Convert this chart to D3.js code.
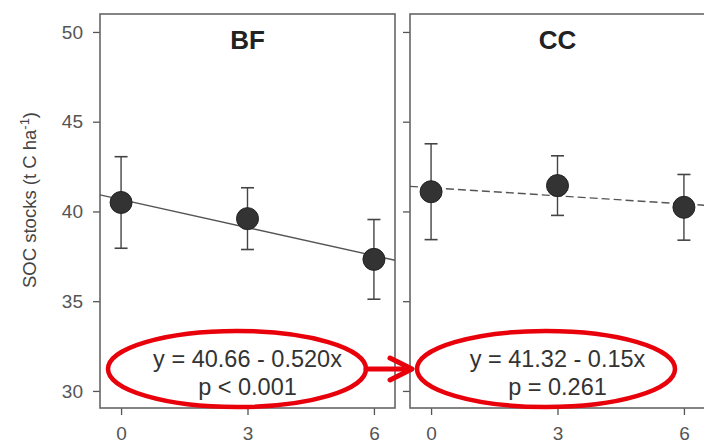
<!DOCTYPE html>
<html>
<head>
<meta charset="utf-8">
<script src="https://cdn.jsdelivr.net/npm/d3@7"></script>
<style>
  body { margin: 0; background: #fff; }
  svg { display: block; font-family: "Liberation Sans", Arial, sans-serif; }
</style>
</head>
<body>
<div id="chart"></div>
<script>
// data
const years = [0, 3, 6];
const yTicks = [30, 35, 40, 45, 50];
const panelNames = ["BF", "CC"];
const bfMean = [40.5, 39.6, 37.33];
const bfErr = [2.55, 1.72, 2.22];
const ccMean = [41.1, 41.44, 40.23];
const ccErr = [2.67, 1.66, 1.83];
const bfFit = [40.66, -0.520];   // intercept, slope
const ccFit = [41.32, -0.15];
const bfLabel = ["y = 40.66 - 0.520x", "p < 0.001"];
const ccLabel = ["y = 41.32 - 0.15x", "p = 0.261"];

var W = 704, H = 446;
var pw = 295, ph = 394;

var svg = d3.select("#chart").append("svg")
  .attr("width", W).attr("height", H);

var x = d3.scaleLinear().domain([-0.5, 6.5]).range([0, pw]);
var y = d3.scaleLinear().domain([29.05, 51]).range([ph, 0]);

var panels = [
  {name: panelNames[0], left: 100, mean: bfMean, err: bfErr, fit: bfFit, label: bfLabel, dash: null, ecx: 137},
  {name: panelNames[1], left: 410, mean: ccMean, err: ccErr, fit: ccFit, label: ccLabel, dash: "8,4", ecx: 136}
];

panels.forEach(function(p, i) {
  var g = svg.append("g").attr("transform", "translate(" + p.left + ",14)");

  // y axis ticks (labels only on first panel)
  var ya = g.append("g")
    .call(d3.axisLeft(y).tickValues(yTicks).tickSize(7).tickPadding(10));
  ya.select(".domain").remove();
  ya.selectAll("line").attr("stroke", "#555").attr("stroke-width", 1.3);
  ya.selectAll("text").attr("fill", "#555").style("font-size", "19px")
    .attr("opacity", i == 0 ? 1 : 0);

  // x axis
  var xa = g.append("g").attr("transform", "translate(0," + ph + ")")
    .call(d3.axisBottom(x).tickValues(years).tickFormat(d3.format("d")).tickSize(7).tickPadding(12));
  xa.select(".domain").remove();
  xa.selectAll("line").attr("stroke", "#555").attr("stroke-width", 1.3);
  xa.selectAll("text").attr("fill", "#555").style("font-size", "19px");

  // frame
  g.append("rect")
    .attr("width", pw).attr("height", ph)
    .attr("fill", "none").attr("stroke", "#666").attr("stroke-width", 1.6);

  // title
  g.append("text")
    .attr("x", pw / 2).attr("y", 35)
    .attr("text-anchor", "middle")
    .style("font-size", "26px").style("font-weight", "bold")
    .attr("fill", "#222")
    .text(p.name);

  // regression line
  g.append("line")
    .attr("x1", x(-0.5)).attr("y1", y(p.fit[0] + p.fit[1] * -0.5))
    .attr("x2", x(6.5)).attr("y2", y(p.fit[0] + p.fit[1] * 6.5))
    .attr("stroke", "#555").attr("stroke-width", 1.4)
    .attr("stroke-dasharray", p.dash);

  // error bars
  var eb = g.selectAll(".eb").data(years).enter().append("g");
  eb.append("line")
    .attr("x1", function(d) { return x(d); }).attr("x2", function(d) { return x(d); })
    .attr("y1", function(d, j) { return y(p.mean[j] + p.err[j]); })
    .attr("y2", function(d, j) { return y(p.mean[j] - p.err[j]); })
    .attr("stroke", "#444").attr("stroke-width", 1.4);
  [1, -1].forEach(function(s) {
    eb.append("line")
      .attr("x1", function(d) { return x(d) - 6.5; }).attr("x2", function(d) { return x(d) + 6.5; })
      .attr("y1", function(d, j) { return y(p.mean[j] + s * p.err[j]); })
      .attr("y2", function(d, j) { return y(p.mean[j] + s * p.err[j]); })
      .attr("stroke", "#444").attr("stroke-width", 1.6);
  });

  // points
  g.selectAll(".pt").data(years).enter().append("circle")
    .attr("cx", function(d) { return x(d); })
    .attr("cy", function(d, j) { return y(p.mean[j]); })
    .attr("r", 11)
    .attr("fill", "#333").attr("stroke", "#222").attr("stroke-width", 1);

  // equation text
  g.selectAll(".eq").data(p.label).enter().append("text")
    .attr("x", pw / 2)
    .attr("y", function(d, j) { return 353 + j * 28; })
    .attr("text-anchor", "middle")
    .style("font-size", "23.5px").attr("fill", "#333")
    .text(function(d) { return d; });

  // red ellipse
  g.append("ellipse")
    .attr("cx", p.ecx).attr("cy", 355)
    .attr("rx", 129).attr("ry", 38)
    .attr("fill", "none").attr("stroke", "#e8000b").attr("stroke-width", 4.5);
});

// y axis title
svg.append("text")
  .attr("transform", "translate(36,200) rotate(-90)")
  .attr("text-anchor", "middle")
  .style("font-size", "18.5px").attr("fill", "#444")
  .html('SOC stocks (t C ha<tspan dy="-7" font-size="13">-1</tspan><tspan dy="7">)</tspan>');

// arrow between the ellipses
var arrow = svg.append("g").attr("stroke", "#e8000b").attr("stroke-width", 5)
  .attr("stroke-linecap", "round").attr("fill", "none");
arrow.append("line").attr("x1", 366).attr("y1", 369).attr("x2", 410).attr("y2", 369);
arrow.append("polyline").attr("points", "390,358 412,369 390,380")
  .attr("stroke-linejoin", "round");
</script>
</body>
</html>
